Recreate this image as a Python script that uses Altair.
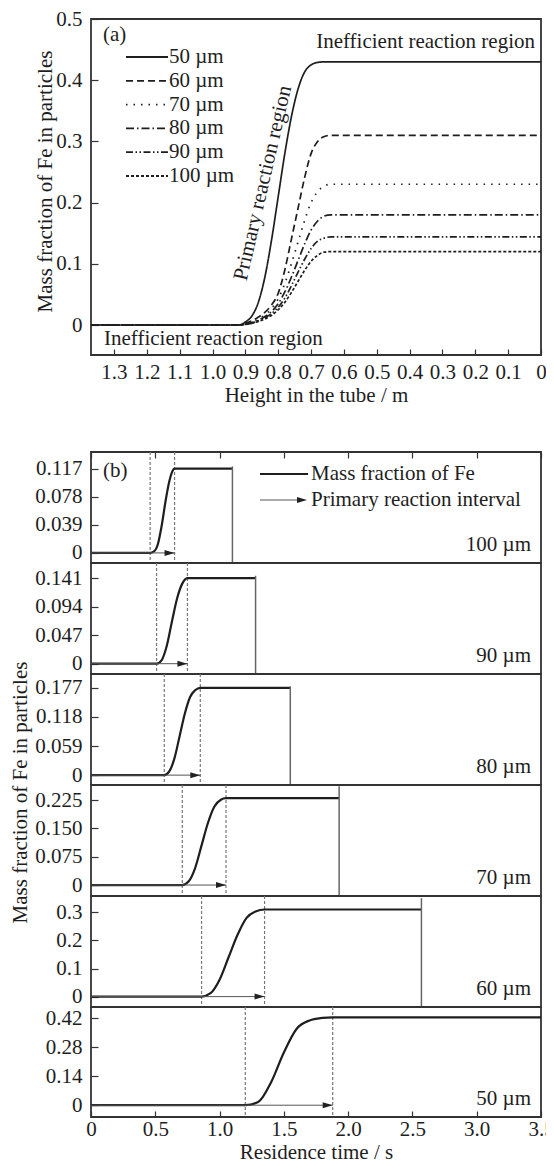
import altair as alt
import pandas as pd

FONT = "'Liberation Serif', 'Times New Roman', 'DejaVu Serif', serif"
INK = "#1e1e1e"
FRAME = "#333333"
FS = 21

# ---------------- panel (a) data ----------------
sizes_a = ["50 µm", "60 µm", "70 µm", "80 µm", "90 µm", "100 µm"]
heights = [1.37, 0.92, 0.90, 0.88, 0.86, 0.84, 0.82, 0.80, 0.78, 0.76, 0.74, 0.72, 0.70, 0.68, 0.66, 0.64, 0.0]
fe_50 = [0, 0, 0.005, 0.015, 0.038, 0.080, 0.140, 0.210, 0.280, 0.340, 0.385, 0.413, 0.425, 0.429, 0.430, 0.430, 0.430]
fe_60 = [0, 0, 0.003, 0.007, 0.013, 0.021, 0.033, 0.052, 0.090, 0.140, 0.190, 0.240, 0.280, 0.300, 0.308, 0.310, 0.310]
fe_70 = [0, 0, 0.002, 0.005, 0.010, 0.017, 0.027, 0.043, 0.068, 0.100, 0.135, 0.170, 0.200, 0.218, 0.227, 0.230, 0.230]
fe_80 = [0, 0, 0.002, 0.004, 0.008, 0.014, 0.022, 0.035, 0.054, 0.078, 0.105, 0.132, 0.155, 0.170, 0.178, 0.180, 0.180]
fe_90 = [0, 0, 0.001, 0.003, 0.007, 0.012, 0.019, 0.029, 0.044, 0.064, 0.086, 0.107, 0.125, 0.137, 0.142, 0.144, 0.144]
fe_100 = [0, 0, 0.001, 0.003, 0.006, 0.010, 0.016, 0.025, 0.037, 0.053, 0.071, 0.089, 0.104, 0.114, 0.119, 0.120, 0.120]
fe_all = [fe_50, fe_60, fe_70, fe_80, fe_90, fe_100]
dashes = [[1, 0], [7, 4], [1.5, 6], [8, 3, 1.5, 3], [7, 2.5, 1.5, 2.5, 1.5, 2.5], [3, 2]]
x_ticks_a = [1.3, 1.2, 1.1, 1.0, 0.9, 0.8, 0.7, 0.6, 0.5, 0.4, 0.3, 0.2, 0.1, 0.0]
y_ticks_a = [0, 0.1, 0.2, 0.3, 0.4, 0.5]

# ---------------- panel (b) data ----------------
sizes_b = ["100 µm", "90 µm", "80 µm", "70 µm", "60 µm", "50 µm"]
t_start = [0.46, 0.51, 0.57, 0.71, 0.86, 1.20]
t_end = [0.65, 0.75, 0.85, 1.05, 1.35, 1.88]
t_exit = [1.10, 1.28, 1.55, 1.93, 2.57, None]
exit_top = [0.120, 0.145, 0.180, 0.262, 0.350, None]
curve_t = [
    [0, 0.46, 0.49, 0.52, 0.55, 0.58, 0.61, 0.63, 0.65, 1.10],
    [0, 0.51, 0.55, 0.59, 0.63, 0.67, 0.71, 0.75, 1.28],
    [0, 0.57, 0.61, 0.65, 0.69, 0.73, 0.77, 0.81, 0.85, 1.55],
    [0, 0.71, 0.76, 0.81, 0.86, 0.91, 0.96, 1.01, 1.05, 1.93],
    [0, 0.86, 0.93, 1.00, 1.07, 1.14, 1.21, 1.28, 1.35, 2.57],
    [0, 1.20, 1.30, 1.40, 1.50, 1.60, 1.70, 1.80, 1.88, 3.50],
]
curve_v = [
    [0, 0, 0.002, 0.012, 0.038, 0.072, 0.100, 0.112, 0.117, 0.117],
    [0, 0, 0.006, 0.030, 0.070, 0.108, 0.132, 0.141, 0.141],
    [0, 0, 0.008, 0.035, 0.080, 0.125, 0.158, 0.172, 0.177, 0.177],
    [0, 0, 0.010, 0.045, 0.105, 0.165, 0.208, 0.226, 0.230, 0.230],
    [0, 0, 0.012, 0.060, 0.140, 0.220, 0.280, 0.303, 0.310, 0.310],
    [0, 0, 0.015, 0.110, 0.255, 0.370, 0.410, 0.422, 0.425, 0.425],
]
ticks_b = [
    [0, 0.039, 0.078, 0.117],
    [0, 0.047, 0.094, 0.141],
    [0, 0.059, 0.118, 0.177],
    [0, 0.075, 0.150, 0.225],
    [0, 0.1, 0.2, 0.3],
    [0, 0.14, 0.28, 0.42],
]
fmt_b = [".3f", ".3f", ".3f", ".3f", ".1f", ".2f"]
y_lo = [-0.014, -0.017, -0.020, -0.029, -0.037, -0.057]
y_hi = [0.140, 0.166, 0.205, 0.265, 0.358, 0.475]
x_ticks_b = [0, 0.5, 1.0, 1.5, 2.0, 2.5, 3.0, 3.5]

# ---------------- layout ----------------
W = 450
HA = 336
GAP = 97
heights_b = [111, 111, 111, 111, 111, 110]
PAD_L, PAD_T = 83, 11
SVG_W, SVG_H = 538, 1155
PAD_R = SVG_W - PAD_L - W
# with autosize "none" the concat's own height signal is 0, so the padding sets the page height
PAD_B = SVG_H - PAD_T

ARROW = "M0,0L-2,-0.6L-2,0.6Z"
one = pd.DataFrame({"k": [0]})
LBL0 = "datum.value == 0 ? '0' : format(datum.value, '.1f')"


def txt(text, x, y, align="left", angle=0):
    kw = dict(font=FONT, fontSize=FS, color=INK, align=align, baseline="middle")
    if angle:
        kw["angle"] = angle
    return alt.Chart(one).mark_text(**kw).encode(
        x=alt.value(x), y=alt.value(y), text=alt.value(text))


def hrule(x1, x2, y, dash=None, width=1.8, color=INK):
    kw = dict(color=color, strokeWidth=width)
    if dash:
        kw["strokeDash"] = dash
    return alt.Chart(one).mark_rule(**kw).encode(
        x=alt.value(x1), x2=alt.value(x2), y=alt.value(y))


# ---------------- build panel (a) ----------------
rows = []
for lab, vals in zip(sizes_a, fe_all):
    for h, v in zip(heights, vals):
        rows.append({"size": lab, "h": h, "v": v})
dfA = pd.DataFrame(rows)

xA = alt.X("h:Q", scale=alt.Scale(domain=[0, 1.37], reverse=True, nice=False, zero=False),
           axis=alt.Axis(values=x_ticks_a, labelExpr=LBL0, tickSize=6, offset=-6, labelPadding=6,
                         labelFlush=False, labelOverlap=False,
                         title="Height in the tube / m", titleY=46, titleBaseline="middle"))
yA = alt.Y("v:Q", scale=alt.Scale(domain=[-0.049, 0.5], nice=False, zero=False),
           axis=alt.Axis(values=y_ticks_a, labelExpr=LBL0, tickSize=7, offset=-7, labelPadding=9,
                         labelFlush=False, labelOverlap=False,
                         title="Mass fraction of Fe in particles", titleX=-53, titleY=162,
                         titleBaseline="middle"))

linesA = alt.Chart(dfA).mark_line(color=INK, strokeWidth=1.7, interpolate="monotone").encode(
    x=xA, y=yA,
    strokeDash=alt.StrokeDash("size:N", scale=alt.Scale(domain=sizes_a, range=dashes), legend=None),
    detail="size:N")

layersA = [linesA]
for i, lab in enumerate(sizes_a):
    ly = 38 + i * 23.8
    layersA.append(hrule(35, 77, ly, dash=dashes[i] if i else None, width=1.8))
    layersA.append(txt(lab, 78, ly))
layersA.append(txt("(a)", 12, 16))
layersA.append(txt("Inefficient reaction region", W - 6, 23, align="right"))
layersA.append(txt("Inefficient reaction region", 13, 320))
layersA.append(txt("Primary reaction region", 172, 164, align="center", angle=283))

chartA = alt.layer(*layersA).properties(width=W, height=HA)

spacer = alt.Chart(one).mark_point(opacity=0).encode(
    x=alt.value(0), y=alt.value(0)).properties(
    width=W, height=GAP, view=alt.ViewBackground(stroke="transparent"))


# ---------------- build panel (b) ----------------
def sub(i):
    H = heights_b[i]
    xscale = alt.Scale(domain=[0, 3.5], nice=False, zero=False)
    if i == 0:
        xaxis = alt.Axis(orient="top", values=x_ticks_b, labels=False, tickSize=6, offset=-6, title=None)
    elif i == 5:
        xaxis = alt.Axis(values=x_ticks_b, labelExpr=LBL0, tickSize=6, offset=-6, labelPadding=1,
                         labelFlush=False, labelOverlap=False,
                         title="Residence time / s", titleY=41.5, titleBaseline="middle")
    else:
        xaxis = None
    ykw = dict(values=ticks_b[i], format=fmt_b[i], labelExpr="datum.value == 0 ? '0' : datum.label",
               tickSize=7, offset=-7, labelPadding=9, labelFlush=False, labelOverlap=False)
    if i == 2:
        ykw.update(title="Mass fraction of Fe in particles", titleX=-78, titleY=118, titleBaseline="middle")
    else:
        ykw["title"] = None
    yaxis = alt.Axis(**ykw)
    yscale = alt.Scale(domain=[y_lo[i], y_hi[i]], nice=False, zero=False)

    def X(f):
        return alt.X(f, scale=xscale, axis=xaxis)

    def Y(f):
        return alt.Y(f, scale=yscale, axis=yaxis)

    layers = []
    dots = pd.DataFrame({"t": [t_start[i], t_end[i]]})
    layers.append(alt.Chart(dots).mark_rule(color="#777777", strokeDash=[3, 2], strokeWidth=1.2).encode(
        x=X("t:Q")))
    cur = pd.DataFrame({"t": curve_t[i], "v": curve_v[i]})
    layers.append(alt.Chart(cur).mark_line(color=INK, strokeWidth=2.2, interpolate="monotone").encode(
        x=X("t:Q"), y=Y("v:Q")))
    if t_exit[i] is not None:
        ex = pd.DataFrame({"t": [t_exit[i]], "v": [exit_top[i]]})
        layers.append(alt.Chart(ex).mark_rule(color="#666666", strokeWidth=1.5).encode(
            x=X("t:Q"), y=Y("v:Q"), y2=alt.value(H)))
    arr = pd.DataFrame({"t0": [0.0], "t": [t_end[i]], "v": [0.0]})
    layers.append(alt.Chart(arr).mark_rule(color="#555555", strokeWidth=1).encode(
        x=X("t0:Q"), x2="t:Q", y=Y("v:Q")))
    layers.append(alt.Chart(arr).mark_point(shape=ARROW, filled=True, size=100, color="#222222",
                                            opacity=1).encode(x=X("t:Q"), y=Y("v:Q")))
    layers.append(txt(sizes_b[i], W - 10, H - 18, align="right"))
    if i == 0:
        layers.append(txt("(b)", 12, 19))
        layers.append(hrule(169, 217, 22, width=2))
        layers.append(txt("Mass fraction of Fe", 220, 22))
        layers.append(hrule(169, 212, 48, width=1, color="#555555"))
        layers.append(alt.Chart(one).mark_point(shape=ARROW, filled=True, size=100, color="#222222",
                                                opacity=1).encode(x=alt.value(216), y=alt.value(48)))
        layers.append(txt("Primary reaction interval", 220, 48))
    return alt.layer(*layers).properties(width=W, height=H)


subs = [sub(i) for i in range(6)]

chart = alt.vconcat(chartA, spacer, *subs, spacing=0, bounds="flush").properties(
    autosize=alt.AutoSizeParams(type="none"),
    padding={"left": PAD_L, "top": PAD_T, "right": PAD_R, "bottom": PAD_B}
).configure_view(stroke=FRAME, strokeWidth=1.8).configure_axis(
    labelFont=FONT, titleFont=FONT, labelFontSize=FS, titleFontSize=FS, titleFontWeight="normal",
    labelColor=INK, titleColor=INK, tickColor=FRAME, tickWidth=1.2, grid=False, domain=False
)

chart.save("out.html", embed_options={"renderer": "svg", "actions": False})
